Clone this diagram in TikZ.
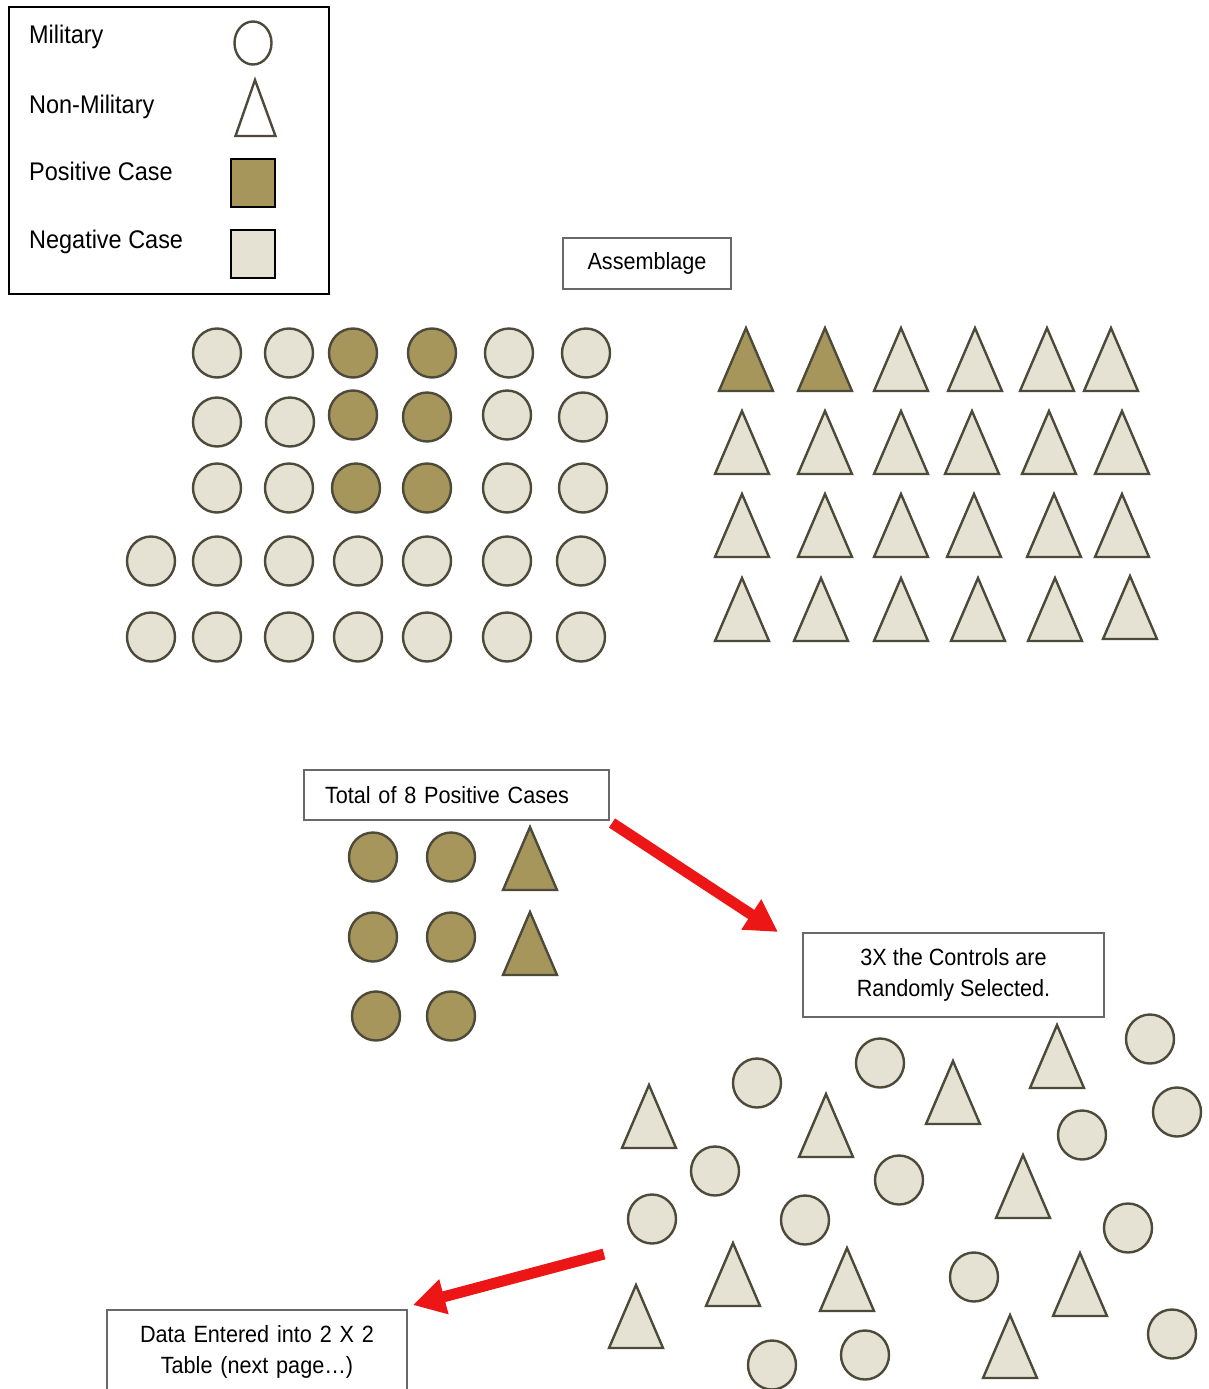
\documentclass[tikz,border=0pt]{standalone}
\usepackage{fontspec}
\setmainfont{Liberation Sans}[FakeStretch=0.92]
\usepackage{tikz}
\usetikzlibrary{arrows.meta, positioning}
\usepackage{xcolor}
\definecolor{posfill}{RGB}{166,150,92}
\definecolor{negfill}{RGB}{230,226,211}
\definecolor{lineolive}{RGB}{78,74,58}
\definecolor{arrowred}{RGB}{237,22,22}
\definecolor{boxgray}{RGB}{105,105,105}

\tikzset{
  shapeline/.style={draw=lineolive, line width=2.4pt},
  labelbox/.style={draw=boxgray, line width=1.6pt, fill=white, inner sep=0pt,
    font=\fontsize{23.5}{31}\selectfont},
  legendtext/.style={inner sep=0pt, anchor=base west, font=\fontsize{25.5}{30}\selectfont},
  legendsq/.style={draw=black, line width=2.6pt},
  bigarrow/.style={arrowred, line width=11pt, -{Triangle[length=32pt, width=34pt]}}
}
% apex at (#2,#3)
\newcommand{\tri}[3][negfill]{\filldraw[shapeline, fill=#1] (#2,#3) -- ++(-27,63) -- ++(54,0) -- cycle;}
\newcommand{\casecirc}[3][negfill]{\filldraw[shapeline, fill=#1] (#2,#3) circle[x radius=24, y radius=24.5];}

\begin{document}
\begin{tikzpicture}[x=1pt, y=-1pt]
  \useasboundingbox (0,0) rectangle (1209,1389);

  % legend
  \node[draw=black, line width=1.6pt, minimum width=320, minimum height=287, anchor=north west, inner sep=0pt] (legend) at (8,6) {};
  \node[legendtext] (lmil) at (29,43.5) {Military};
  \node[legendtext] (lnonmil) at (29,113) {Non-Military};
  \node[legendtext] (lpos) at (29,180) {Positive Case};
  \node[legendtext] (lneg) at (29,248) {Negative Case};
  \draw[shapeline] (253,43) circle[x radius=18.5, y radius=21.5];
  \draw[shapeline] (255,80) -- (275.5,136) -- (235.5,136) -- cycle;
  \filldraw[legendsq, fill=posfill] (231,159) rectangle (275,207);
  \filldraw[legendsq, fill=negfill] (231,230) rectangle (275,278);

  % assemblage
  \node[labelbox, minimum width=168, minimum height=51] (assem) at (647,263.5) {Assemblage};

  \foreach \x/\y in {217/353, 289/353, 509/353, 586/353,
                     217/422, 290/422, 507/415, 583/417,
                     217/488, 289/488, 507/488, 583/488,
                     151/561, 217/561, 289/561, 358/561, 427/561, 507/561, 581/561,
                     151/637, 217/637, 289/637, 358/637, 427/637, 507/637, 581/637}
    \casecirc{\x}{\y};
  \foreach \x/\y in {353/353, 432/353, 353/415, 427/417, 356/488, 427/488}
    \casecirc[posfill]{\x}{\y};

  \tri[posfill]{746}{328}
  \tri[posfill]{825}{328}
  \foreach \x/\y in {901/328, 975/328, 1047/328, 1111/328,
                     742/411, 825/411, 901/411, 972/411, 1049/411, 1122/411,
                     742/494, 825/494, 901/494, 974/494, 1054/494, 1122/494,
                     742/578, 821/578, 901/578, 978/578, 1055/578, 1130/576}
    \tri{\x}{\y};

  % positive cases
  \node[labelbox, text width=263, align=left, inner xsep=21, minimum height=50,
        text height=17, text depth=0] (total) at (456.5,795) {Total of 8 Positive Cases};
  \foreach \x/\y in {373/857, 451/857, 373/937, 451/937, 376/1016, 451/1016}
    \casecirc[posfill]{\x}{\y};
  \tri[posfill]{530}{827}
  \tri[posfill]{530}{912}

  % controls
  \node[labelbox, minimum width=301, minimum height=84, align=center] (ctrl) at (953.5,975)
    {3X the Controls are\\Randomly Selected.};
  \coordinate (arr1a) at (612,823);
  \coordinate (arr1b) at (778,932);
  \draw[bigarrow] (arr1a) -- (arr1b);

  \foreach \x/\y in {757/1083, 880/1063, 1150/1039, 1177/1112, 1082/1135, 715/1171, 899/1180,
                     652/1219, 805/1220, 1128/1228, 974/1277, 1172/1334, 772/1365, 865/1355}
    \casecirc{\x}{\y};
  \foreach \x/\y in {649/1085, 826/1094, 953/1061, 1057/1025, 1023/1155,
                     733/1243, 847/1248, 1080/1253, 636/1285, 1010/1315}
    \tri{\x}{\y};

  % data table
  \node[labelbox, anchor=north, text width=280, align=center, inner xsep=10, inner ysep=16,
        text depth=60] (data) at (257,1309) {Data Entered into 2 X 2\\Table (next page…)};
  \coordinate (arr2a) at (604,1254);
  \coordinate (arr2b) at (413,1305);
  \draw[bigarrow] (arr2a) -- (arr2b);

\end{tikzpicture}
\end{document}
